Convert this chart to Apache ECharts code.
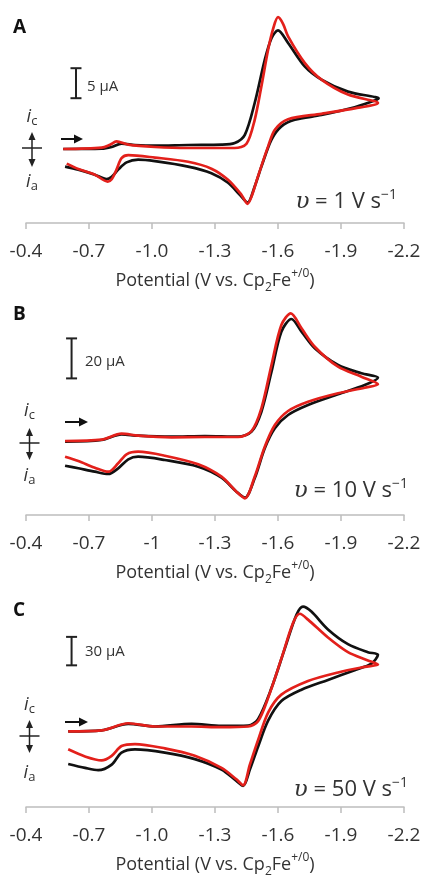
<!DOCTYPE html>
<html>
<head>
<meta charset="utf-8">
<script src="https://cdn.jsdelivr.net/npm/echarts@6/dist/echarts.min.js"></script>
<style>
html,body{margin:0;padding:0;background:#fff}
#chart{width:425px;height:879px}
</style>
</head>
<body>
<div id="chart"></div>
<script>
// potential (V vs Cp2Fe+/0), current (uA, cathodic up), in scan order
var cvA_black = [[-0.577,-0.17],[-0.760,-0.12],[-0.808,0.17],[-0.855,0.72],[-0.919,0.50],[-1.014,0.38],[-1.172,0.50],[-1.331,0.55],[-1.394,0.83],[-1.442,2.2],[-1.489,7.5],[-1.537,14.7],[-1.569,18.3],[-1.600,19.6],[-1.648,17.5],[-1.727,13.6],[-1.807,11.4],[-1.933,9.4],[-2.060,8.5],[-2.079,8.3],
  [-2.060,7.9],[-1.965,6.8],[-1.807,5.5],[-1.680,4.7],[-1.616,3.6],[-1.569,1.4],[-1.521,-3.1],[-1.489,-6.4],[-1.455,-9.1],[-1.418,-7.8],[-1.362,-5.8],[-1.283,-4.2],[-1.172,-3.1],[-1.014,-2.2],[-0.934,-1.95],[-0.879,-2.4],[-0.839,-3.6],[-0.808,-4.8],[-0.784,-5.2],[-0.728,-4.45],[-0.649,-3.6],[-0.586,-3.1]];
var cvA_red = [[-0.577,-0.17],[-0.760,0.05],[-0.800,0.55],[-0.831,1.1],[-0.887,0.55],[-1.014,0.17],[-1.172,0],[-1.394,0],[-1.450,0.7],[-1.489,4.7],[-1.521,10.3],[-1.553,16.4],[-1.577,19.9],[-1.600,21.8],[-1.624,20.7],[-1.648,18.6],[-1.727,14.2],[-1.807,11.4],[-1.933,8.9],[-2.076,7.5],
  [-1.965,6.6],[-1.807,5.7],[-1.648,4.8],[-1.585,3.05],[-1.553,0.27],[-1.505,-4.7],[-1.474,-8.1],[-1.455,-9.3],[-1.426,-7.8],[-1.362,-5.3],[-1.283,-3.45],[-1.172,-2.3],[-1.014,-1.6],[-0.887,-1.2],[-0.855,-1.7],[-0.831,-3.6],[-0.808,-5.2],[-0.789,-5.6],[-0.728,-4.45],[-0.649,-3.5],[-0.594,-2.6]];

var cvB_black = [[-0.586,0.65],[-0.760,1.5],[-0.855,4.35],[-0.934,3.65],[-1.093,3.15],[-1.252,3.5],[-1.410,3.15],[-1.474,5.65],[-1.521,15.65],[-1.569,35.65],[-1.616,55.65],[-1.664,62],[-1.712,55.65],[-1.775,47.35],[-1.886,39],[-1.997,34.85],[-2.076,32.65],
  [-2.013,29],[-1.886,24.35],[-1.743,19],[-1.648,14],[-1.585,7.35],[-1.537,-2.65],[-1.489,-17.65],[-1.442,-27.35],[-1.402,-24.35],[-1.331,-17.35],[-1.220,-11.85],[-1.061,-8.5],[-0.934,-6.85],[-0.887,-8.15],[-0.839,-12.65],[-0.792,-15.5],[-0.728,-14.35],[-0.649,-12.65],[-0.586,-11.35]];
var cvB_red = [[-0.586,1.0],[-0.760,1.65],[-0.855,4.65],[-0.934,3.65],[-1.093,2.85],[-1.252,3.0],[-1.410,3.0],[-1.474,6.0],[-1.521,17.35],[-1.569,39],[-1.616,59],[-1.661,64.85],[-1.712,57.35],[-1.775,48.15],[-1.886,38.15],[-1.997,33.15],[-2.076,29.35],
  [-2.013,27.65],[-1.886,24.85],[-1.743,20.65],[-1.648,16],[-1.585,9],[-1.537,-1.85],[-1.489,-16.85],[-1.442,-27.65],[-1.402,-24.35],[-1.331,-16.85],[-1.220,-10.65],[-1.061,-6.35],[-0.934,-4.35],[-0.879,-5.65],[-0.839,-10.15],[-0.792,-14.35],[-0.728,-12.35],[-0.649,-9],[-0.586,-6.85]];

var cvC_black = [[-0.601,1.75],[-0.760,2.8],[-0.887,9.6],[-1.014,6.9],[-1.188,9.6],[-1.331,7.5],[-1.458,7.9],[-1.505,14.7],[-1.569,47.4],[-1.632,88.7],[-1.688,124.7],[-1.719,133.3],[-1.759,128.1],[-1.838,109.3],[-1.933,93.8],[-2.028,85.3],[-2.076,82.5],
  [-2.045,73.2],[-1.965,66.3],[-1.838,56.0],[-1.712,45.7],[-1.616,33.7],[-1.553,13.1],[-1.505,-14.4],[-1.466,-38.5],[-1.434,-55.7],[-1.402,-50.5],[-1.331,-38.5],[-1.204,-27.5],[-1.061,-20.6],[-0.919,-17.2],[-0.855,-20.6],[-0.808,-33.3],[-0.744,-39.2],[-0.681,-36.8],[-0.601,-32.7]];
var cvC_red = [[-0.601,1.75],[-0.760,2.8],[-0.887,10.3],[-1.014,6.9],[-1.188,6.9],[-1.331,6.2],[-1.458,6.9],[-1.505,12.4],[-1.553,37.1],[-1.616,78.4],[-1.672,116.2],[-1.704,125.8],[-1.743,119.6],[-1.838,100.7],[-1.933,85.3],[-2.028,76.6],[-2.076,72.2],
  [-2.013,69.8],[-1.886,63.9],[-1.743,54.9],[-1.616,40.5],[-1.553,21.6],[-1.505,-7.5],[-1.466,-33.3],[-1.434,-55.0],[-1.402,-48.8],[-1.331,-36.8],[-1.204,-24.0],[-1.061,-16.2],[-0.919,-11.6],[-0.855,-13.7],[-0.808,-24.0],[-0.760,-28.9],[-0.681,-24.7],[-0.601,-17.2]];

var ticksA = ['-0.4','-0.7','-1.0','-1.3','-1.6','-1.9','-2.2'];
var ticksB = ['-0.4','-0.7','-1','-1.3','-1.6','-1.9','-2.2'];
var ticksC = ['-0.4','-0.7','-1.0','-1.3','-1.6','-1.9','-2.2'];
var scaleBars = [5, 20, 30];      // uA
var scanRates = [1, 10, 50];      // V/s
var letters = ['A', 'B', 'C'];

var X0 = -0.4;   // x axis runs from 0 (=-0.4 V) to -1.8 (=-2.2 V), so ticks land on 0.3 steps
var FONT = "'Open Sans', 'Liberation Sans', sans-serif";

var panels = [
  {black:cvA_black, red:cvA_red, ticks:ticksA, top:13, bottom:656, ymin:-12.5, ymax:22.5, barV:-0.638, barI:8.3,
   letterY:28, icY:117, iaY:182, ax:32, arTop:132, arBot:167, crossY:148, hx1:61, hx2:83, hy:139, vRight:397, vY:202, barLX:87, barLY:87},
  {black:cvB_black, red:cvB_red, ticks:ticksB, top:305, bottom:364, ymin:-36, ymax:69, barV:-0.617, barI:32.3,
   letterY:315, icY:411, iaY:476, ax:29.5, arTop:428, arBot:460, crossY:443, hx1:65, hx2:88, hy:422, vRight:408, vY:491, barLX:85, barLY:362},
  {black:cvC_black, red:cvC_red, ticks:ticksC, top:590.8, bottom:67, ymin:-78, ymax:150, barV:-0.617, barI:71.4,
   letterY:611, icY:705, iaY:773, ax:29.5, arTop:720, arBot:753, crossY:736, hx1:65, hx2:88, hy:722, vRight:408, vY:790, barLX:85, barLY:652}
];

function shift(arr){
  return arr.map(function(p){ return [p[0] - X0, p[1]]; });
}

var grids = [], xAxes = [], yAxes = [], series = [], graphics = [];

panels.forEach(function(p, i){
  grids.push({left:26, right:21, top:p.top, bottom:p.bottom});
  xAxes.push({
    type:'value', gridIndex:i, min:-1.8, max:0, interval:0.3, inverse:true,
    axisLine:{onZero:false, lineStyle:{color:'#bdbdbd', width:1.5}},
    axisTick:{length:6, lineStyle:{color:'#bdbdbd', width:1.5}},
    splitLine:{show:false},
    axisLabel:{
      color:'#333', fontFamily:FONT, fontSize:19, margin:19,
      formatter:function(v){ return p.ticks[Math.round(-v / 0.3)]; }
    },
    name:'Potential (V vs. Cp{sub|2}Fe{sup|+/0})',
    nameLocation:'middle', nameGap:45,
    nameTextStyle:{
      color:'#333', fontFamily:FONT, fontSize:18, lineHeight:26,
      rich:{
        sub:{fontFamily:FONT, fontSize:12, lineHeight:18, verticalAlign:'bottom', color:'#333'},
        sup:{fontFamily:FONT, fontSize:12, lineHeight:14, verticalAlign:'top', color:'#333'}
      }
    }
  });
  yAxes.push({type:'value', gridIndex:i, min:p.ymin, max:p.ymax, show:false});

  series.push({
    type:'line', xAxisIndex:i, yAxisIndex:i, data:shift(p.black),
    showSymbol:false, smooth:0.3, lineStyle:{color:'#111', width:2.7}, z:2
  });
  series.push({
    type:'line', xAxisIndex:i, yAxisIndex:i, data:shift(p.red),
    showSymbol:false, smooth:0.3, lineStyle:{color:'#e3201b', width:2.7}, z:3
  });
  // scale bar, drawn in current units
  series.push({
    type:'custom', xAxisIndex:i, yAxisIndex:i,
    data:[[p.barV - X0, p.barI, p.barI + scaleBars[i]]],
    renderItem:function(params, api){
      var a = api.coord([api.value(0), api.value(1)]);
      var b = api.coord([api.value(0), api.value(2)]);
      var st = {stroke:'#222', lineWidth:2};
      return {type:'group', children:[
        {type:'line', shape:{x1:a[0], y1:a[1], x2:b[0], y2:b[1]}, style:st},
        {type:'line', shape:{x1:a[0]-5.5, y1:a[1], x2:a[0]+5.5, y2:a[1]}, style:st},
        {type:'line', shape:{x1:b[0]-5.5, y1:b[1], x2:b[0]+5.5, y2:b[1]}, style:st}
      ]};
    }
  });

  graphics.push(
    {type:'text', style:{x:13, y:p.letterY, text:letters[i], font:'bold 19px ' + FONT, fill:'#111', textVerticalAlign:'middle'}},
    {type:'text', style:{x:p.barLX, y:p.barLY, text:scaleBars[i] + ' \u00b5A', font:'15px ' + FONT, fill:'#333', textVerticalAlign:'middle'}},
    {type:'text', style:{x:p.ax, y:p.icY, text:'{i|i}{s|c}', textAlign:'center', textVerticalAlign:'middle',
      rich:{i:{font:'italic 18px ' + FONT, fill:'#333', lineHeight:22, verticalAlign:'middle'},
            s:{font:'13px ' + FONT, fill:'#333', lineHeight:16, verticalAlign:'bottom'}}}},
    {type:'text', style:{x:p.ax, y:p.iaY, text:'{i|i}{s|a}', textAlign:'center', textVerticalAlign:'middle',
      rich:{i:{font:'italic 18px ' + FONT, fill:'#333', lineHeight:22, verticalAlign:'middle'},
            s:{font:'13px ' + FONT, fill:'#333', lineHeight:16, verticalAlign:'bottom'}}}},
    // vertical double arrow with crossing line
    {type:'line', shape:{x1:p.ax, y1:p.arTop + 6, x2:p.ax, y2:p.arBot - 6}, style:{stroke:'#222', lineWidth:1.5}},
    {type:'polygon', shape:{points:[[p.ax, p.arTop], [p.ax - 3.5, p.arTop + 8], [p.ax + 3.5, p.arTop + 8]]}, style:{fill:'#222'}},
    {type:'polygon', shape:{points:[[p.ax, p.arBot], [p.ax - 3.5, p.arBot - 8], [p.ax + 3.5, p.arBot - 8]]}, style:{fill:'#222'}},
    {type:'line', shape:{x1:p.ax - 10, y1:p.crossY, x2:p.ax + 10, y2:p.crossY}, style:{stroke:'#222', lineWidth:1.5}},
    // scan direction arrow
    {type:'line', shape:{x1:p.hx1, y1:p.hy, x2:p.hx2 - 6, y2:p.hy}, style:{stroke:'#111', lineWidth:2}},
    {type:'polygon', shape:{points:[[p.hx2, p.hy], [p.hx2 - 9, p.hy - 4.5], [p.hx2 - 9, p.hy + 4.5]]}, style:{fill:'#111'}},
    // scan rate
    {type:'text', style:{x:p.vRight, y:p.vY, text:'{u|\u03c5} = ' + scanRates[i] + ' V s{sup|\u22121}',
      textAlign:'right', textVerticalAlign:'middle', font:'22px ' + FONT, fill:'#333',
      rich:{u:{font:'italic 23px "DejaVu Serif", serif', fill:'#333', lineHeight:28, verticalAlign:'middle'},
            sup:{font:'14px ' + FONT, fill:'#333', lineHeight:18, verticalAlign:'top'}}}}
  );
});

var chart = echarts.init(document.getElementById('chart'));
chart.setOption({
  backgroundColor:'#fff',
  animation:false,
  grid:grids,
  xAxis:xAxes,
  yAxis:yAxes,
  series:series,
  graphic:graphics
});
</script>
</body>
</html>
